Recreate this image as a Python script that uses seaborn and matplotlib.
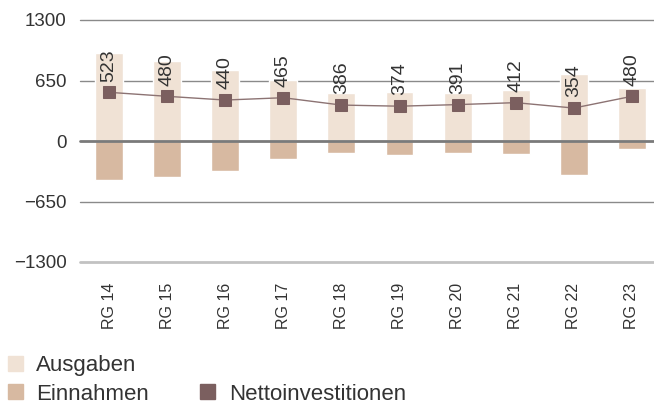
import matplotlib
matplotlib.use("Agg")
import matplotlib.pyplot as plt
from matplotlib.patches import Patch
import seaborn as sns
import pandas as pd

# Data (Mio.) per Rechnungsjahr
jahre = ["RG 14", "RG 15", "RG 16", "RG 17", "RG 18", "RG 19", "RG 20", "RG 21", "RG 22", "RG 23"]
ausgaben = [945, 862, 762, 655, 512, 526, 517, 550, 720, 569]
einnahmen = [-422, -382, -322, -190, -126, -152, -126, -138, -366, -89]
netto = [523, 480, 440, 465, 386, 374, 391, 412, 354, 480]
y_ticks = [-1300, -650, 0, 650, 1300]

col_ausgaben = "#f0e2d5"
col_einnahmen = "#d7b9a1"
col_netto = "#7b5f5f"
text_col = "#333333"

sns.set_theme(style="white")
plt.rcParams["font.family"] = ["Liberation Sans", "DejaVu Sans"]

df = pd.DataFrame({"Jahr": jahre, "Ausgaben": ausgaben,
                   "Einnahmen": einnahmen, "Netto": netto})

fig = plt.figure(figsize=(6.54, 4.05), dpi=100)
ax = fig.add_axes([80 / 654, 1 - 262 / 405, 1 - 80 / 654, 242 / 405])

sns.barplot(data=df, x="Jahr", y="Ausgaben", color=col_ausgaben,
            width=0.48, saturation=1, ax=ax, zorder=2)
sns.barplot(data=df, x="Jahr", y="Einnahmen", color=col_einnahmen,
            width=0.48, saturation=1, ax=ax, zorder=2)
sns.lineplot(data=df, x="Jahr", y="Netto", color="#8c7373", linewidth=1,
             marker="s", markersize=8.5, markerfacecolor=col_netto,
             markeredgecolor=col_netto, ax=ax, zorder=4, sort=False)

# horizontal reference lines
for v in y_ticks:
    if v == 0:
        ax.axhline(v, color="#7a7a7a", lw=2.0, zorder=3, clip_on=False)
    elif v == -1300:
        ax.axhline(v, color="#c2c2c2", lw=2.0, zorder=1, clip_on=False)
    else:
        ax.axhline(v, color="#8a8a8a", lw=1.0, zorder=1, clip_on=False)

# value labels above the markers
for i, v in enumerate(netto):
    ax.text(i, v + 115, f"{v}", rotation=90, ha="center", va="bottom",
            fontsize=14, color=text_col, zorder=5)

ax.set_ylim(-1300, 1300)
ax.set_xlim(-0.5, 9.38)
ax.set_yticks(y_ticks)
ax.set_yticklabels([f"{t}".replace("-", "\u2212") for t in y_ticks])
ax.set_xticks(range(len(jahre)))
ax.set_xticklabels(jahre, rotation=90)
ax.tick_params(axis="y", length=0, pad=9.5, labelsize=13.5, labelcolor=text_col)
ax.tick_params(axis="x", length=0, pad=15, labelsize=11.5, labelcolor=text_col)
ax.set_xlabel("")
ax.set_ylabel("")
ax.grid(False)
sns.despine(ax=ax, left=True, bottom=True)

handles = [Patch(color=col_ausgaben, label="Ausgaben"),
           Patch(color=col_einnahmen, label="Einnahmen"),
           Patch(color="none", alpha=0, label=" "),
           Patch(color=col_netto, label="Nettoinvestitionen")]
fig.legend(handles=handles, loc="upper left", ncol=2,
           bbox_to_anchor=(8 / 654, 1 - 355 / 405), frameon=False,
           fontsize=16, handlelength=0.68, handleheight=0.68,
           handletextpad=0.6, columnspacing=2.3, labelspacing=0.34,
           borderpad=0, borderaxespad=0, labelcolor=text_col)

fig.savefig("out.png", dpi=100)
